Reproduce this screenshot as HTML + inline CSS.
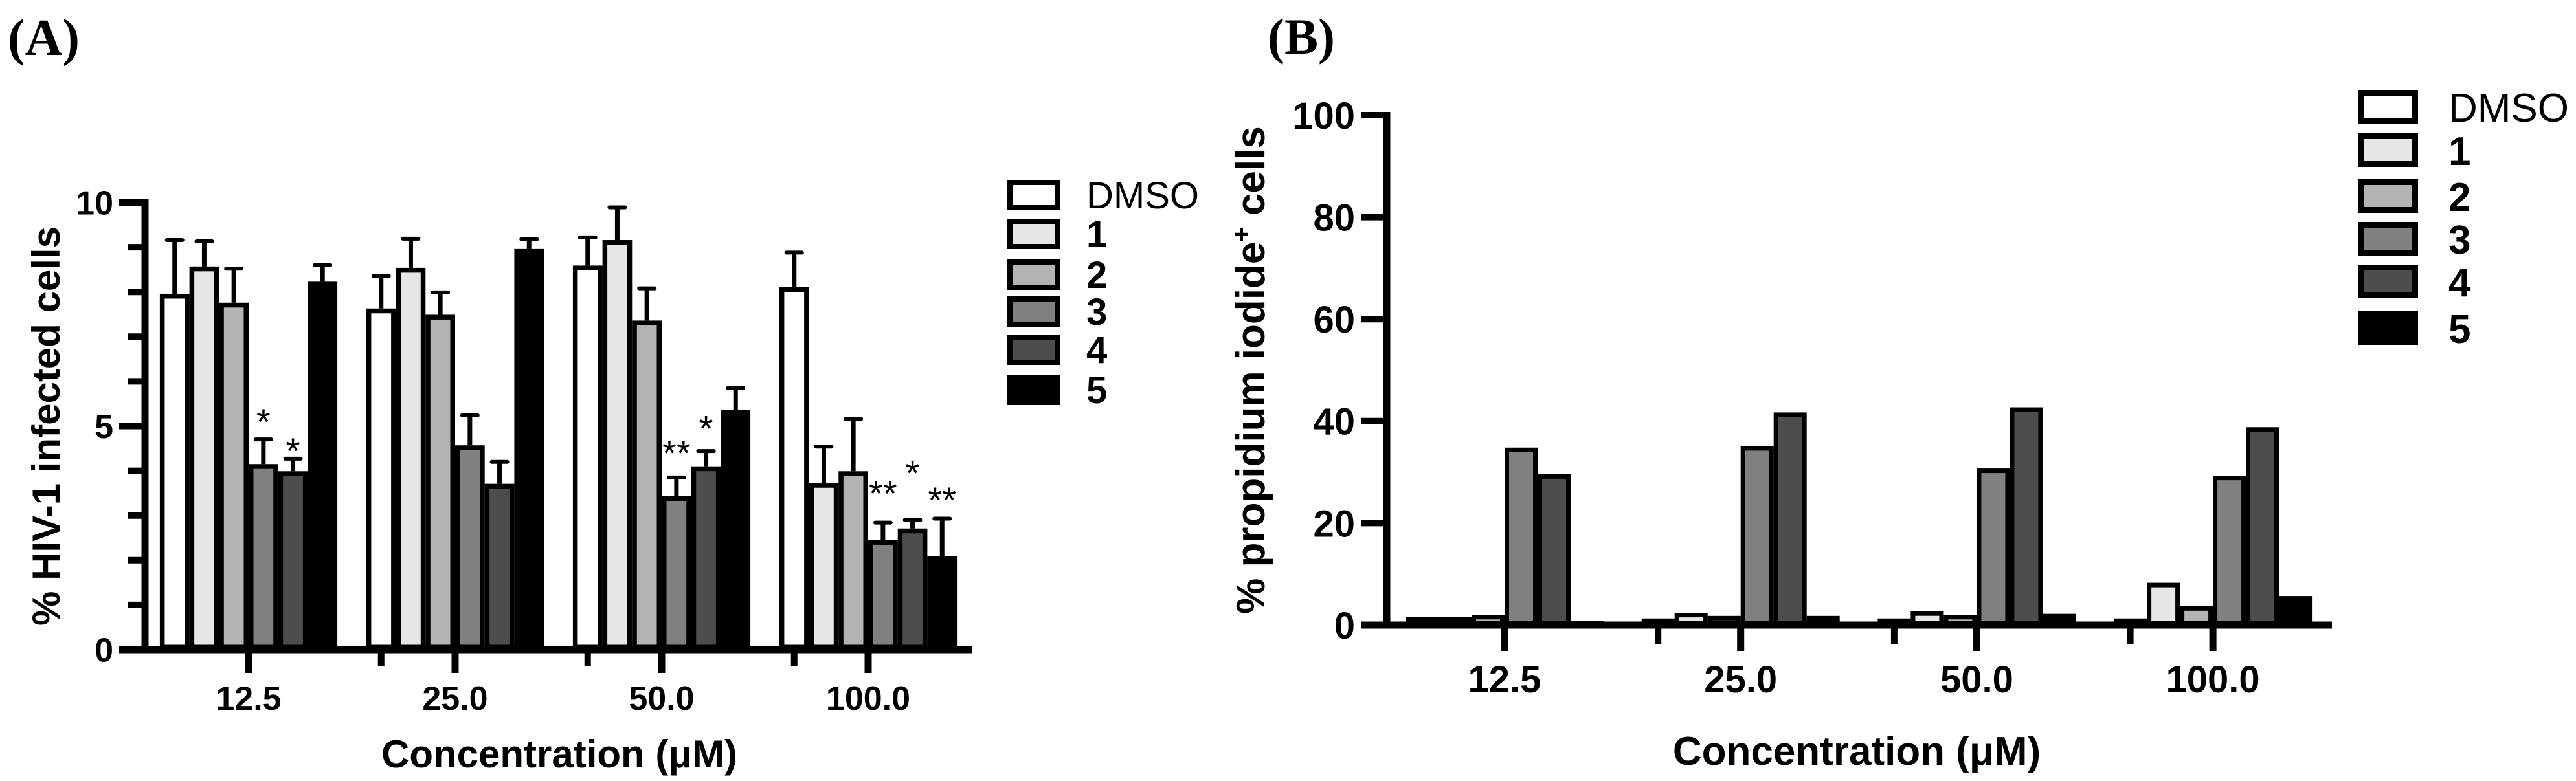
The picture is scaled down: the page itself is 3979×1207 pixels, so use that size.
<!DOCTYPE html>
<html><head><meta charset="utf-8">
<style>
html,body{margin:0;padding:0;background:#fff;}
svg{display:block;}
text{font-family:"Liberation Sans",Arial,sans-serif;}
</style></head>
<body>
<svg id="fig" width="3979" height="1207" viewBox="0 0 3979 1207" xmlns="http://www.w3.org/2000/svg">
<rect width="3979" height="1207" fill="#fff"/>
<text x="12" y="85" font-family="Liberation Serif, serif" font-weight="bold" font-size="80" style="font-family:'Liberation Serif',serif">(A)</text>
<text x="1958" y="83" font-family="Liberation Serif, serif" font-weight="bold" font-size="78" style="font-family:'Liberation Serif',serif">(B)</text>
<g id="chartA"></g>
<g id="chartB"></g>
</svg>
<script>
const categories = ["12.5","25.0","50.0","100.0"];
const seriesNames = ["DMSO","1","2","3","4","5"];
const seriesFills = ["#ffffff","#e6e6e6","#b3b3b3","#808080","#4d4d4d","#000000"];
// Panel A: % HIV-1 infected cells (rows = series, cols = categories)
const aDMSO = [7.96, 7.63, 8.59, 8.11];
const a1    = [8.57, 8.54, 9.16, 3.73];
const a2    = [7.76, 7.49, 7.36, 3.99];
const a3    = [4.15, 4.57, 3.43, 2.45];
const a4    = [3.99, 3.71, 4.10, 2.71];
const a5    = [8.23, 8.96, 5.36, 2.09];
const aErrDMSO = [9.19, 8.39, 9.25, 8.91];
const aErr1    = [9.16, 9.22, 9.92, 4.57];
const aErr2    = [8.55, 8.02, 8.11, 5.19];
const aErr3    = [4.73, 5.27, 3.88, 2.87];
const aErr4    = [4.30, 4.23, 4.47, 2.93];
const aErr5    = [8.63, 9.21, 5.88, 2.96];
// significance marks [category index, series index, label, label level]
const aStars = [[0,3,"*",5.25],[0,4,"*",4.6],[2,3,"**",4.55],[2,4,"*",5.1],[3,3,"**",3.65],[3,4,"*",4.1],[3,5,"**",3.5]];
const aTicks = [0,5,10];
// Panel B: % propidium iodide+ cells
const bDMSO = [1.6, 1.3, 1.3, 1.3];
const b1    = [1.6, 2.4, 2.7, 8.3];
const b2    = [2.0, 1.8, 2.0, 3.7];
const b3    = [34.8, 35.1, 30.7, 29.3];
const b4    = [29.6, 41.7, 42.7, 38.8];
const b5    = [0.8, 1.8, 2.2, 5.7];
const bTicks = [0,20,40,60,80,100];

const NS="http://www.w3.org/2000/svg";
function mk(parent, tag, attrs, txt){
  const e=document.createElementNS(NS,tag);
  for(const k in attrs) e.setAttribute(k,attrs[k]);
  if(txt!==undefined) e.textContent=txt;
  parent.appendChild(e); return e;
}

function drawChart(g, cfg){
  const yS = v => cfg.y0 + (cfg.y1-cfg.y0)*(v-cfg.vmin)/(cfg.vmax-cfg.vmin);
  const xC = i => cfg.xFirst + i*cfg.groupStep;
  const sw = cfg.sw;
  // bars
  cfg.series.forEach((vals, s)=>{
    vals.forEach((v, c)=>{
      const left = xC(c) - 3*cfg.pitch + s*cfg.pitch;
      const top = yS(v), bot = cfg.y0;
      if(cfg.errs){
        const et = yS(cfg.errs[s][c]);
        const eb = mk(g,'line',{x1:left+cfg.pitch/2,x2:left+cfg.pitch/2,y1:top,y2:et,stroke:'#000','stroke-width':7});
        
        
        const cap = mk(g,'line',{x1:left+cfg.pitch/2-12,x2:left+cfg.pitch/2+12,y1:et+2,y2:et+2,stroke:'#000','stroke-width':6,'stroke-linecap':'round'});
        
        
      }
      const h = Math.max(bot-top-sw, 0.5);
      const r = mk(g,'rect',{x:left+sw/2,y:top+sw/2,width:cfg.pitch-sw,height:h,fill:seriesFills[s],stroke:'#000','stroke-width':sw});
      
      
    });
  });
  // stars
  if(cfg.stars){
    cfg.stars.forEach(st=>{
      const x = xC(st[0]) - 3*cfg.pitch + (st[1]+0.5)*cfg.pitch;
      const t = mk(g,'text',{x:x,y:yS(st[3])+30,'text-anchor':'middle','font-size':56},st[2]);
      
      
    });
  }
  // y axis
  const ya = mk(g,'line',{x1:cfg.ax,x2:cfg.ax,y1:yS(cfg.vmax)-5,y2:cfg.y0+5,stroke:'#000','stroke-width':11});
  
  
  if(cfg.minor){
    for(let v=cfg.vmin; v<=cfg.vmax; v+=cfg.minor){
      const m = mk(g,'line',{x1:cfg.ax-27,x2:cfg.ax,y1:yS(v),y2:yS(v),stroke:'#000','stroke-width':10});
      
      
    }
  }
  cfg.ticks.forEach(v=>{
    const t = mk(g,'line',{x1:cfg.ax-40,x2:cfg.ax,y1:yS(v),y2:yS(v),stroke:'#000','stroke-width':10});
    
    
    const l = mk(g,'text',{x:cfg.ax-49,y:yS(v)+cfg.tfs*0.36,'text-anchor':'end','font-size':cfg.tfs,'font-weight':'bold'},String(v));
    
    
  });
  // x axis
  const xa = mk(g,'line',{x1:cfg.ax-40,x2:cfg.xEnd,y1:cfg.y0,y2:cfg.y0,stroke:'#000','stroke-width':11});
  
  
  categories.forEach((c,i)=>{
    const t = mk(g,'line',{x1:xC(i),x2:xC(i),y1:cfg.y0,y2:cfg.y0+cfg.tickLen,stroke:'#000','stroke-width':11});
    
    
    if(i>0){
      const mx = xC(i)-2.5*cfg.pitch;
      const m = mk(g,'line',{x1:mx,x2:mx,y1:cfg.y0,y2:cfg.y0+cfg.tickLen-10,stroke:'#000','stroke-width':10});
      
      
    }
    const l = mk(g,'text',{x:xC(i),y:cfg.xLabY,'text-anchor':'middle','font-size':cfg.tfs,'font-weight':'bold'},c);
    
    
  });
  const xt = mk(g,'text',{x:cfg.xTitleX,y:cfg.xTitleY,'text-anchor':'middle','font-size':cfg.titleFs,'font-weight':'bold'},'Concentration (\u03bcM)');
  
  
  const yt = mk(g,'text',{x:0,y:0,'text-anchor':'middle','font-size':cfg.titleFs,'font-weight':'bold',transform:'translate('+cfg.yTitleX+','+((cfg.y0+yS(cfg.vmax))/2)+') rotate(-90)'});
  
  
  yt.innerHTML = cfg.yTitle;
  // legend
  seriesNames.forEach((n,s)=>{
    const top = cfg.legTops[s];
    const r = mk(g,'rect',{x:cfg.legX+cfg.lsw/2,y:top+cfg.lsw/2,width:cfg.legW-cfg.lsw,height:cfg.legH-cfg.lsw,fill:seriesFills[s],stroke:'#000','stroke-width':cfg.lsw});
    
    
    const t = mk(g,'text',{x:cfg.legTextX,y:top+cfg.legH-3,'font-size':cfg.legFs,'font-weight':s===0?'normal':'bold'},n);
    
    
  });
}

drawChart(document.getElementById('chartA'),{
  y0:1004, y1:313, vmin:0, vmax:10, ax:224, xFirst:384, groupStep:319, pitch:45.7, sw:7.5,
  series:[aDMSO,a1,a2,a3,a4,a5], errs:[aErrDMSO,aErr1,aErr2,aErr3,aErr4,aErr5], stars:aStars,
  ticks:aTicks, minor:1, xEnd:1502, tickLen:36, tfs:52, xLabY:1097,
  xTitleX:864, xTitleY:1186, titleFs:60, yTitleX:92, yTitle:'% HIV-1 infected cells',
  legTops:[278,338,401,458,517,579], legX:1556, legW:81, legH:47, lsw:8, legTextX:1678, legFs:58
});
drawChart(document.getElementById('chartB'),{
  y0:966, y1:178, vmin:0, vmax:100, ax:2142, xFirst:2324, groupStep:364.7, pitch:51, sw:7,
  series:[bDMSO,b1,b2,b3,b4,b5], errs:null, stars:null,
  ticks:bTicks, minor:0, xEnd:3602, tickLen:40, tfs:58, xLabY:1070,
  xTitleX:2868, xTitleY:1182, titleFs:62, yTitleX:1953, yTitle:'% propidium iodide<tspan baseline-shift="super" font-size="40">+</tspan> cells',
  legTops:[139,206,277,343,409,481], legX:3642, legW:93, legH:52, lsw:9, legTextX:3782, legFs:62
});
</script>
</body></html>
